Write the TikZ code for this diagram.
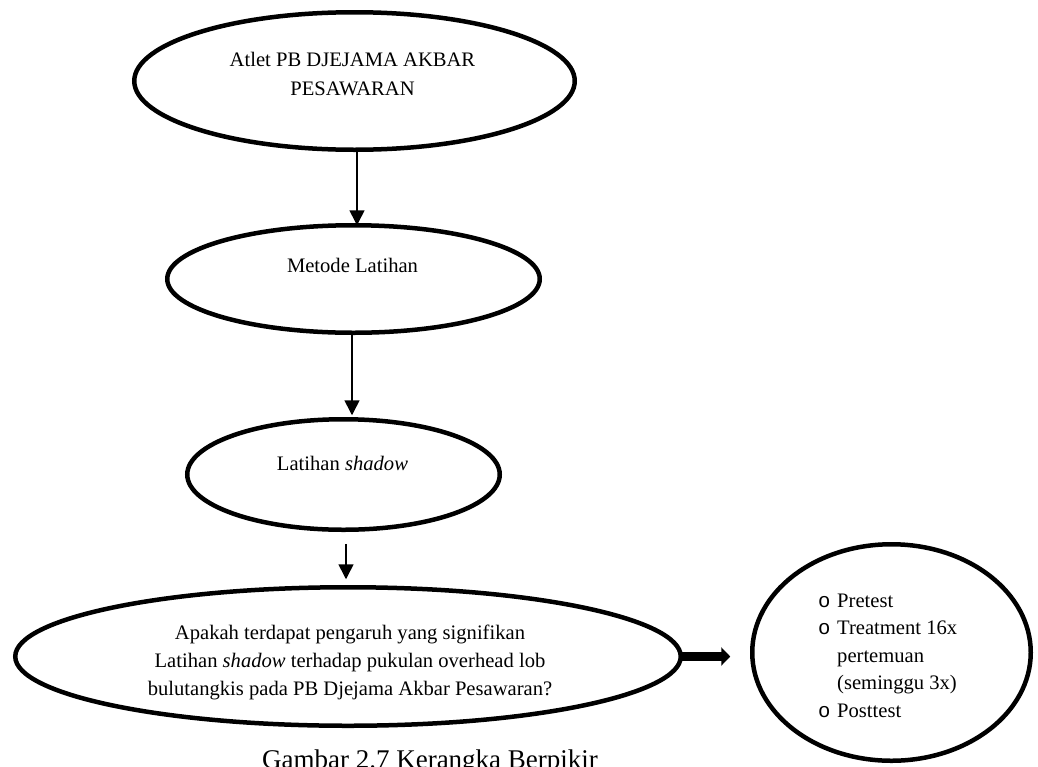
\documentclass[tikz,border=0pt]{standalone}
\usepackage{fontspec}
\setmainfont{Liberation Serif}
\newfontfamily\bulletfont{Liberation Mono}
\usetikzlibrary{shapes.geometric,arrows.meta}
\begin{document}
\begin{tikzpicture}[x=1pt,y=-1pt,
  oval/.style={draw,ellipse,line width=4.5pt,inner sep=0pt,outer sep=0pt},
  txt/.style={font=\fontsize{20.6}{28}\selectfont,anchor=base,inner sep=0pt},
  txtl/.style={txt,anchor=base west},
  bul/.style={font=\fontsize{20.6}{28}\bulletfont,anchor=base west,inner sep=0pt},
  arr/.style={line width=1.6pt,-{Triangle[width=15pt,length=15pt]}},
  bigarr/.style={line width=9pt,-{Triangle[width=18pt,length=9pt]}}]
\useasboundingbox (0,0) rectangle (1038,766);
% ellipses
\node[oval,minimum width=440.5pt,minimum height=137.5pt] (atlet) at (354.5,81) {};
\node[oval,minimum width=372.5pt,minimum height=107.5pt] (metode) at (353.5,279) {};
\node[oval,minimum width=312.5pt,minimum height=110.5pt] (shadow) at (343.5,474.5) {};
\node[oval,minimum width=665.5pt,minimum height=138.5pt] (tanya) at (348,656.5) {};
\node[oval,minimum width=278.5pt,minimum height=216.5pt] (hasil) at (891.5,652.5) {};
% texts
\node[txt] (t1a) at (352.5,66) {Atlet PB DJEJAMA AKBAR};
\node[txt] (t1b) at (352.5,95) {PESAWARAN};
\node[txt] (t2) at (352.5,272) {Metode Latihan};
\node[txt] (t3) at (342.5,470) {Latihan \textit{shadow}};
\node[txt] (t4a) at (350,639) {Apakah terdapat pengaruh yang signifikan};
\node[txt] (t4b) at (350,667) {Latihan \textit{shadow} terhadap pukulan overhead lob};
\node[txt] (t4c) at (350,695) {bulutangkis pada PB Djejama Akbar Pesawaran?};
\node[bul] (b1) at (818,607) {o};
\node[txtl] (r1) at (837,607) {Pretest};
\node[bul] (b2) at (818,634.5) {o};
\node[txtl] (r2) at (837,634.5) {Treatment 16x};
\node[txtl] (r3) at (837,662) {pertemuan};
\node[txtl] (r4) at (837,689.5) {(seminggu 3x)};
\node[bul] (b5) at (818,717) {o};
\node[txtl] (r5) at (837,717) {Posttest};
\node[txt,font=\fontsize{27}{32}\selectfont] (cap) at (430,768) {Gambar 2.7 Kerangka Berpikir};
% connectors
\draw[arr] ([xshift=2.5pt]atlet.south) -- ([xshift=2.5pt]atlet.south |- metode.north);
\draw[arr] ([xshift=-1.5pt]metode.south) -- ([xshift=-1.5pt,yshift=4pt]metode.south |- shadow.north);
\draw[arr,shorten <=14pt,shorten >=8pt] ([xshift=2.5pt]shadow.south) -- ([xshift=2.5pt]shadow.south |- tanya.north);
\draw[bigarr,shorten >=22pt] (tanya.east) -- (tanya.east -| hasil.west);
\end{tikzpicture}
\end{document}
